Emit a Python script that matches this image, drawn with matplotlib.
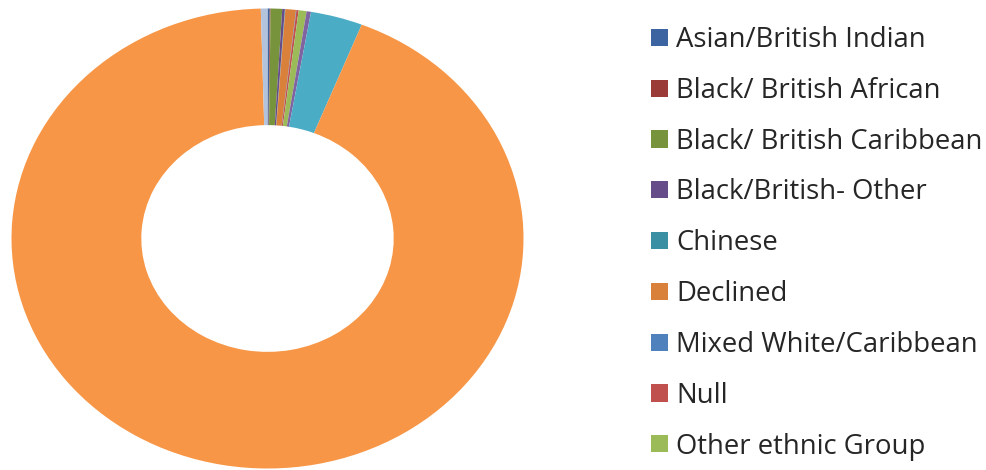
import matplotlib
matplotlib.use("Agg")
import matplotlib.pyplot as plt

# Ethnicity breakdown, in chart order (clockwise from 12 o'clock)
categories = [
    "Asian/British Indian",
    "Black/ British African",
    "Black/ British Caribbean",
    "Black/British- Other",
    "Chinese",
    "Declined",
    "Mixed White/Caribbean",
    "Null",
    "Other ethnic Group",
    "Unknown",
    "White - Any Other",
    "White British",
    "White Irish",
]
counts = [5, 2, 26, 6, 1, 24, 1, 5, 18, 10, 118, 3369, 15]
colors = [
    "#3C64A0", "#9B3B38", "#77933C", "#664D8A", "#3A8FA3", "#D9803A",
    "#4F81BD", "#C0504D", "#9BBB59", "#8064A2", "#4BACC6", "#F79646",
    "#B3C3DC",
]
legend_count = 9  # entries that fit in the legend box

plt.rcParams["font.family"] = ["Open Sans", "DejaVu Sans"]

fig = plt.figure(figsize=(9.86, 4.70), dpi=100)
ax = fig.add_axes([11.5 / 986, 1.5 / 470, 512 / 986, 460 / 470])

wedges, _ = ax.pie(
    counts,
    colors=colors,
    startangle=90,
    counterclock=False,
    radius=1.0,
    wedgeprops=dict(width=0.507, linewidth=0),
)
ax.set_aspect("auto")
ax.set_xlim(-1, 1)
ax.set_ylim(-1, 1)
ax.axis("off")

fig.legend(
    wedges[:legend_count],
    categories[:legend_count],
    loc="upper left",
    bbox_to_anchor=(651 / 986, 1 - 26 / 470),
    frameon=False,
    fontsize=19.8,
    handlelength=0.618,
    handleheight=0.582,
    handletextpad=0.29,
    labelspacing=0.83,
    borderpad=0,
    borderaxespad=0,
    labelcolor="#262626",
)

fig.savefig("out.png", dpi=100, facecolor="white")
